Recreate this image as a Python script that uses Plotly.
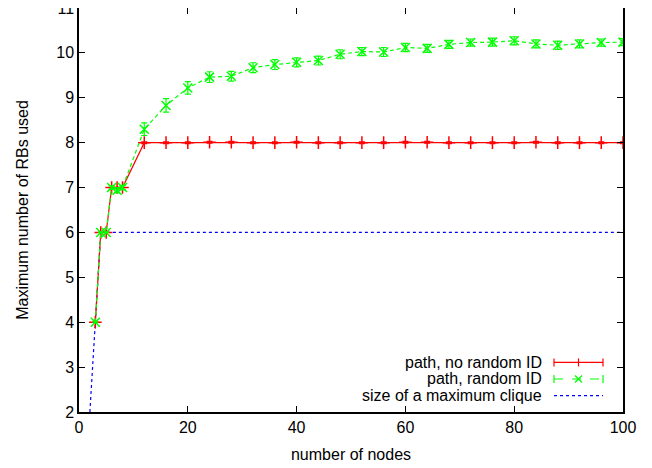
import plotly.graph_objects as go

# ---- data ----
nodes = [3, 4, 5, 6, 7, 8, 12, 16, 20, 24, 28, 32, 36, 40, 44, 48, 52, 56, 60,
         64, 68, 72, 76, 80, 84, 88, 92, 96, 100]
no_random = [4, 6, 6, 7, 7, 7, 8.0, 8.0, 8.0, 8.01, 8.01, 8.0, 8.0, 8.01, 8.0, 8.0, 8.0,
             8.0, 8.01, 8.01, 8.0, 8.0, 8.0, 8.0, 8.01, 8.0, 8.0, 8.0, 8.0]
no_random_err = [0, 0, 0, 0, 0, 0, 0.02, 0.02, 0.02, 0.02, 0.02, 0.02, 0.02, 0.02, 0.02,
                 0.02, 0.02, 0.02, 0.02, 0.02, 0.02, 0.02, 0.02, 0.02, 0.02, 0.02, 0.02,
                 0.02, 0.02]
rand_id = [4, 6, 6, 7, 6.94, 7, 8.30, 8.83, 9.22, 9.46, 9.48, 9.67, 9.74, 9.79, 9.83,
           9.97, 10.03, 10.02, 10.12, 10.10, 10.19, 10.23, 10.24, 10.27, 10.20, 10.17,
           10.20, 10.23, 10.24]
rand_id_err = [0, 0, 0, 0.04, 0.06, 0.05, 0.14, 0.15, 0.14, 0.12, 0.11, 0.11, 0.11, 0.1,
               0.1, 0.1, 0.09, 0.1, 0.09, 0.09, 0.09, 0.08, 0.09, 0.09, 0.09, 0.09,
               0.09, 0.08, 0.08]
clique_x = [2, 3, 4, 100]
clique_y = [2, 4, 6, 6]

x_ticks = [0, 20, 40, 60, 80, 100]
y_ticks = [2, 3, 4, 5, 6, 7, 8, 9, 10, 11]

legend_labels = ["path, no random ID", "path, random ID", "size of a maximum clique"]

RED = "#ff0000"
GREEN = "#00ff00"
BLUE = "#0000ff"
FONT = "Liberation Sans, Arial, Helvetica, sans-serif"
FS = 16

# page has an 8px body margin; figure sized so the plot lands where the reference has it
OFF = 8
W, H = 644, 460
L, R, T, B = 71, 29, 0.4, 55.7
pw, ph = W - L - R, H - T - B

fig = go.Figure()

fig.add_trace(go.Scatter(
    x=clique_x, y=clique_y, mode="lines",
    line=dict(color=BLUE, width=1.2, dash="dot"),
    showlegend=False))

fig.add_trace(go.Scatter(
    x=nodes, y=no_random, mode="lines+markers",
    line=dict(color=RED, width=1.2),
    marker=dict(symbol="cross-thin", size=9, line=dict(color=RED, width=1.5)),
    error_y=dict(type="data", array=no_random_err, color=RED, thickness=1.2, width=3),
    showlegend=False))

fig.add_trace(go.Scatter(
    x=nodes, y=rand_id, mode="lines+markers",
    line=dict(color=GREEN, width=1.2, dash="4px,3px"),
    marker=dict(symbol="x-thin", size=9, line=dict(color=GREEN, width=1.5)),
    error_y=dict(type="data", array=rand_id_err, color=GREEN, thickness=1.2, width=3),
    showlegend=False))


# manual gnuplot-style legend (text right-aligned, sample to the right)
def px_to_paper_x(px):
    return (px - OFF - L) / pw


def px_to_paper_y(py):
    return (H - B - (py - OFF)) / ph


colors = [RED, GREEN, BLUE]
dashes = ["solid", "dash", "dot"]
row_y = [362.7, 379.3, 396.0]

for lab, col, dsh, ry in zip(legend_labels, colors, dashes, row_y):
    fig.add_annotation(x=px_to_paper_x(544), y=px_to_paper_y(ry), xref="paper", yref="paper",
                       text=lab, showarrow=False, xanchor="right", yanchor="middle",
                       font=dict(family=FONT, size=FS, color="#000000"))
    fig.add_shape(type="line", xref="paper", yref="paper",
                  x0=px_to_paper_x(554), x1=px_to_paper_x(603),
                  y0=px_to_paper_y(ry), y1=px_to_paper_y(ry),
                  line=dict(color=col, width=1.2, dash=dsh))
    if col != BLUE:
        for cx in (554, 603):
            fig.add_shape(type="line", xref="paper", yref="paper",
                          x0=px_to_paper_x(cx), x1=px_to_paper_x(cx),
                          y0=px_to_paper_y(ry - 4), y1=px_to_paper_y(ry + 4),
                          line=dict(color=col, width=1.2))
        if col == RED:
            fig.add_shape(type="line", xref="paper", yref="paper",
                          x0=px_to_paper_x(578.5), x1=px_to_paper_x(578.5),
                          y0=px_to_paper_y(ry - 4), y1=px_to_paper_y(ry + 4),
                          line=dict(color=col, width=1.2))
        else:
            for sgn in (1, -1):
                fig.add_shape(type="line", xref="paper", yref="paper",
                              x0=px_to_paper_x(575), x1=px_to_paper_x(582),
                              y0=px_to_paper_y(ry - 3.5 * sgn), y1=px_to_paper_y(ry + 3.5 * sgn),
                              line=dict(color=col, width=1.2))

axis_common = dict(
    showgrid=False, zeroline=False, showline=True, linecolor="#000000", linewidth=1.5,
    mirror="ticks", ticks="inside", ticklen=6, tickcolor="#000000", tickwidth=1,
    tickfont=dict(family=FONT, size=FS, color="#000000"),
    title_font=dict(family=FONT, size=FS, color="#000000"),
)

fig.update_xaxes(range=[0, 100], tickvals=x_ticks, title_text="number of nodes",
                 title_standoff=14, **axis_common)
fig.update_yaxes(range=[2, 11.0001], tickvals=y_ticks, title_text="Maximum number of RBs used",
                 title_standoff=24, ticklabeloverflow="allow", **axis_common)

fig.update_layout(
    width=W, height=H,
    margin=dict(l=L, r=R, t=T, b=B, autoexpand=False),
    paper_bgcolor="#ffffff", plot_bgcolor="#ffffff",
    font=dict(family=FONT, size=FS, color="#000000"),
    showlegend=False,
)

fig.write_html("out.html")
